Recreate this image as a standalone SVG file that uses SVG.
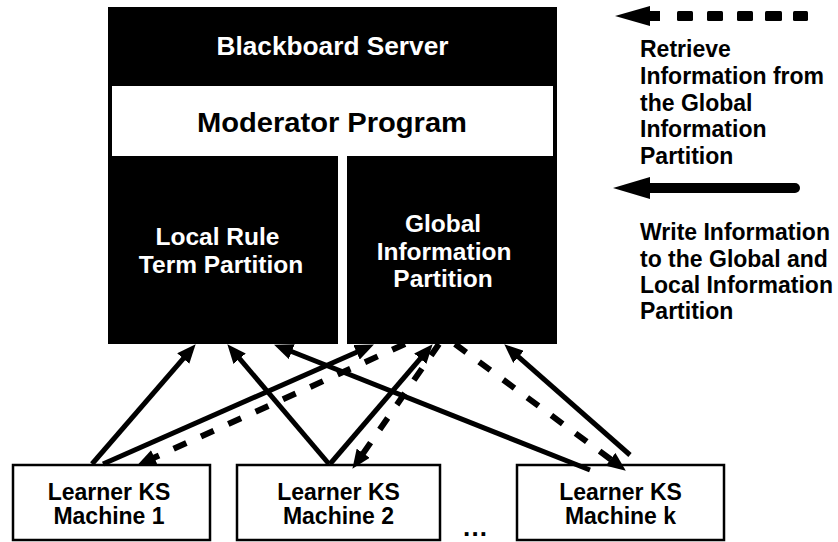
<svg xmlns="http://www.w3.org/2000/svg" width="838" height="542" viewBox="0 0 838 542">
  <style>
    text { font-family: "Liberation Sans", Arial, sans-serif; font-weight: bold; }
    .wt { fill: #ffffff; text-anchor: middle; }
    .bt { fill: #000000; text-anchor: middle; }
    .lg { fill: #000000; font-size: 23px; }
    .box { fill: #ffffff; stroke: #000000; stroke-width: 2.5; }
    .solid { fill: none; stroke: #000000; stroke-width: 5; marker-end: url(#ah); }
    .dash { fill: none; stroke: #000000; stroke-width: 6; stroke-dasharray: 14 16; marker-end: url(#ah); }
  </style>
  <defs>
    <marker id="ah" markerUnits="userSpaceOnUse" markerWidth="19" markerHeight="16" refX="5" refY="8" orient="auto">
      <path d="M0,0 L19,8 L0,16 z" fill="#000000"/>
    </marker>
  </defs>
  <rect x="0" y="0" width="838" height="542" fill="#ffffff"/>

  <g id="blackboard-server">
    <rect x="108" y="7" width="449" height="337" fill="#000000"/>
    <text class="wt" x="332.5" y="55" font-size="25" textLength="232" lengthAdjust="spacingAndGlyphs">Blackboard Server</text>
    <g id="moderator-program">
      <rect x="112" y="86" width="441" height="70" fill="#ffffff"/>
      <text class="bt" x="332" y="131.5" font-size="27" textLength="270" lengthAdjust="spacingAndGlyphs">Moderator Program</text>
    </g>
    <rect x="338" y="156" width="9" height="188" fill="#ffffff"/>
    <g id="local-rule-partition">
      <text class="wt" x="217.5" y="245" font-size="24.5">Local Rule</text>
      <text class="wt" x="221" y="273" font-size="24.5">Term Partition</text>
    </g>
    <g id="global-information-partition">
      <text class="wt" x="443" y="231.5" font-size="24.5">Global</text>
      <text class="wt" x="444" y="260" font-size="24.5">Information</text>
      <text class="wt" x="443" y="287" font-size="24.5">Partition</text>
    </g>
  </g>

  <g id="machine-1">
    <rect class="box" x="13" y="465" width="197" height="75"/>
    <text class="bt" x="109" y="500" font-size="23">Learner KS</text>
    <text class="bt" x="109" y="524" font-size="23">Machine 1</text>
  </g>
  <g id="machine-2">
    <rect class="box" x="237" y="465" width="203" height="75"/>
    <text class="bt" x="338.5" y="500" font-size="23">Learner KS</text>
    <text class="bt" x="338.5" y="524" font-size="23">Machine 2</text>
  </g>
  <g id="machine-k">
    <rect class="box" x="517" y="465" width="207" height="75"/>
    <text class="bt" x="620.5" y="500" font-size="23">Learner KS</text>
    <text class="bt" x="620.5" y="524" font-size="23">Machine k</text>
  </g>
  <g id="ellipsis">
    <text class="bt" x="475" y="536" font-size="26" textLength="24" lengthAdjust="spacing">...</text>
  </g>

  <g id="connectors">
    <line class="solid" x1="92" y1="464" x2="186.5" y2="354.8"/>
    <line class="solid" x1="329" y1="464" x2="236.4" y2="354.9"/>
    <line class="solid" x1="103" y1="464" x2="361.1" y2="350.2"/>
    <line class="solid" x1="330" y1="464" x2="423.5" y2="354.9"/>
    <line class="solid" x1="590" y1="470" x2="287.1" y2="349.8"/>
    <line class="solid" x1="630" y1="455" x2="514.8" y2="353.6"/>
    <line class="dash" x1="405" y1="344" x2="149.8" y2="459.6"/>
    <line class="dash" x1="439" y1="344" x2="360.4" y2="457.3"/>
    <line class="dash" x1="455" y1="344" x2="614.6" y2="462.3"/>
  </g>

  <g id="legend">
    <g id="legend-retrieve">
      <polygon points="615,16 650,6 650,26" fill="#000000"/>
      <rect x="648" y="11" width="12" height="10" fill="#000000"/>
      <rect x="677" y="11" width="16" height="10" rx="1.5" fill="#000000"/>
      <rect x="707" y="11" width="16" height="10" rx="1.5" fill="#000000"/>
      <rect x="737" y="11" width="16" height="10" rx="1.5" fill="#000000"/>
      <rect x="765" y="11" width="17" height="10" rx="1.5" fill="#000000"/>
      <rect x="793" y="11" width="15" height="10" rx="1.5" fill="#000000"/>
      <text class="lg" x="640" y="57">Retrieve</text>
      <text class="lg" x="640" y="84">Information from</text>
      <text class="lg" x="640" y="111">the Global</text>
      <text class="lg" x="640" y="137">Information</text>
      <text class="lg" x="640" y="164">Partition</text>
    </g>
    <g id="legend-write">
      <polygon points="613,188 650,177 650,199" fill="#000000"/>
      <line x1="648" y1="188" x2="795" y2="188" stroke="#000000" stroke-width="10" stroke-linecap="round"/>
      <text class="lg" x="640" y="240">Write Information</text>
      <text class="lg" x="640" y="267">to the Global and</text>
      <text class="lg" x="640" y="293">Local Information</text>
      <text class="lg" x="640" y="319">Partition</text>
    </g>
  </g>
</svg>
